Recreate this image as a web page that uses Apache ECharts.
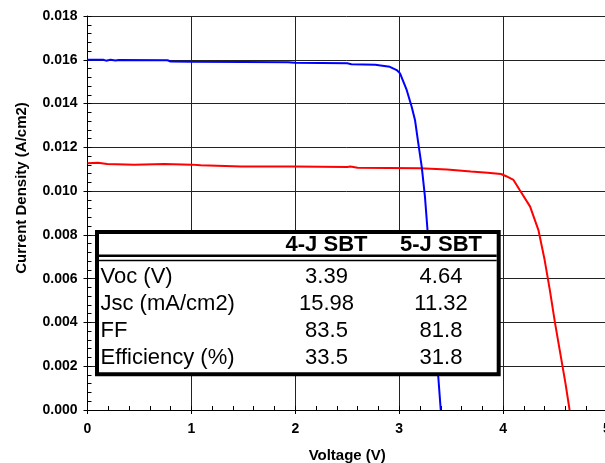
<!DOCTYPE html>
<html>
<head>
<meta charset="utf-8">
<script src="https://cdn.jsdelivr.net/npm/echarts@6/dist/echarts.min.js"></script>
<style>
html,body{margin:0;padding:0;background:#fff;}
#chart{width:605px;height:463px;}
</style>
</head>
<body>
<div id="chart"></div>
<script>
// ---- data ----
var voltage4J = [0, 0.15, 0.18, 0.22, 0.27, 0.30, 0.77, 0.80, 1.00, 1.50, 1.93, 2.00, 2.50, 2.54, 2.77, 2.82, 2.91, 2.976, 3.008, 3.072, 3.12, 3.152, 3.184, 3.217, 3.248, 3.27, 3.376, 3.40];
var current4J = [0.01600, 0.01600, 0.01596, 0.01600, 0.01597, 0.01599, 0.01598, 0.01592, 0.01591, 0.01590, 0.01589, 0.01586, 0.01584, 0.01580, 0.01577, 0.01574, 0.01568, 0.01553, 0.01538, 0.01462, 0.01385, 0.01325, 0.01218, 0.01111, 0.00974, 0.00837, 0.00152, 0];

var voltage5J = [0, 0.10, 0.19, 0.45, 0.74, 1.00, 1.09, 1.48, 1.99, 2.50, 2.53, 2.60, 3.20, 3.46, 3.69, 3.85, 3.98, 4.03, 4.10, 4.16, 4.26, 4.34, 4.40, 4.45, 4.50, 4.55, 4.60, 4.64];
var current5J = [0.01127, 0.01130, 0.01124, 0.01121, 0.01124, 0.01121, 0.01118, 0.01113, 0.01112, 0.01110, 0.01112, 0.01107, 0.01105, 0.01099, 0.01090, 0.01084, 0.01078, 0.01068, 0.01051, 0.01005, 0.00929, 0.00822, 0.00685, 0.00548, 0.00397, 0.00260, 0.00123, 0];

var xTicks = [0, 1, 2, 3, 4, 5];
var yTicks = ['0.000','0.002','0.004','0.006','0.008','0.010','0.012','0.014','0.016','0.018'];

var tableHeaders = ['4-J SBT', '5-J SBT'];
var tableRows = ['Voc (V)', 'Jsc (mA/cm2)', 'FF', 'Efficiency (%)'];
var values4J = ['3.39', '15.98', '83.5', '33.5'];
var values5J = ['4.64', '11.32', '81.8', '31.8'];

// ---- build ----
function pairs(xs, ys){ var o=[]; for(var i=0;i<xs.length;i++){o.push([xs[i], ys[i]]);} return o; }

var FONT = '"Liberation Sans", Arial, sans-serif';
var chart = echarts.init(document.getElementById('chart'), null, {renderer:'canvas'});

var graphics = [];
graphics.push({type:'rect', z:100, shape:{x:97, y:232, width:401.7, height:142.3},
  style:{fill:'#fff', stroke:'#000', lineWidth:4}});
graphics.push({type:'line', z:101, shape:{x1:99, y1:255.8, x2:496.7, y2:255.8},
  style:{stroke:'#000', lineWidth:2.6}});
graphics.push({type:'line', z:101, shape:{x1:99, y1:260.4, x2:496.7, y2:260.4},
  style:{stroke:'#000', lineWidth:1.5}});
var colX = [326.5, 441];
var rowY = [276.7, 303.5, 331, 358.3];
for (var h=0; h<tableHeaders.length; h++){
  graphics.push({type:'text', z:102, x:colX[h], y:244.5,
    style:{text:tableHeaders[h], fontSize:22, fontWeight:'bold', fontFamily:FONT, fill:'#000', align:'center', verticalAlign:'middle'}});
}
for (var r=0; r<tableRows.length; r++){
  graphics.push({type:'text', z:102, x:100.5, y:rowY[r],
    style:{text:tableRows[r], fontSize:22, fontFamily:FONT, fill:'#000', align:'left', verticalAlign:'middle'}});
  graphics.push({type:'text', z:102, x:colX[0], y:rowY[r],
    style:{text:values4J[r], fontSize:22, fontFamily:FONT, fill:'#000', align:'center', verticalAlign:'middle'}});
  graphics.push({type:'text', z:102, x:colX[1], y:rowY[r],
    style:{text:values5J[r], fontSize:22, fontFamily:FONT, fill:'#000', align:'center', verticalAlign:'middle'}});
}

var option = {
  animation:false,
  backgroundColor:'#fff',
  grid:{left:87.5, right:-2, top:16, bottom:53, containLabel:false, outerBoundsMode:'none'},
  xAxis:[{
    type:'value', min:0, max:5, interval:1,
    name:'Voltage (V)', nameLocation:'middle', nameGap:38.5,
    nameTextStyle:{fontSize:15, fontWeight:'bold', fontFamily:FONT, color:'#000'},
    axisLine:{show:true, onZero:false, lineStyle:{color:'#000', width:1}},
    axisTick:{show:true, inside:true, length:4, lineStyle:{color:'#000'}},
    minorTick:{show:true, splitNumber:5, length:4, lineStyle:{color:'#000', width:1}},
    axisLabel:{fontSize:14, fontWeight:'bold', fontFamily:FONT, color:'#000', margin:12,
      hideOverlap:false, showMaxLabel:true,
      formatter:function(v){ return xTicks.indexOf(v)>=0 ? String(v) : ''; }},
    splitLine:{show:true, lineStyle:{color:'#222', width:1}}
  },{
    type:'value', min:0, max:5, interval:1, position:'bottom', offset:0,
    axisLine:{show:false}, axisLabel:{show:false}, splitLine:{show:false},
    axisTick:{show:true, inside:false, length:4, lineStyle:{color:'#000', width:1}}
  }],
  yAxis:[{
    type:'value', min:0, max:0.018, interval:0.002,
    name:'Current Density (A/cm2)', nameLocation:'middle', nameGap:58,
    nameTextStyle:{fontSize:15, fontWeight:'bold', fontFamily:FONT, color:'#000', padding:[0,0,0,50]},
    axisLine:{show:true, onZero:false, lineStyle:{color:'#000', width:1}},
    axisTick:{show:true, inside:true, length:4, lineStyle:{color:'#000'}},
    minorTick:{show:true, splitNumber:5, length:4, lineStyle:{color:'#000', width:1}},
    axisLabel:{fontSize:14, fontWeight:'bold', fontFamily:FONT, color:'#000', margin:10,
      formatter:function(v){ return yTicks[Math.round(v/0.002)]; }},
    splitLine:{show:true, lineStyle:{color:'#222', width:1}}
  },{
    type:'value', min:0, max:0.018, interval:0.002, position:'left', offset:0,
    axisLine:{show:false}, axisLabel:{show:false}, splitLine:{show:false},
    axisTick:{show:true, inside:false, length:4, lineStyle:{color:'#000', width:1}}
  }],
  series:[{
    name:'5-J SBT', type:'line', xAxisIndex:0, yAxisIndex:0,
    data:pairs(voltage5J, current5J), showSymbol:false, smooth:false,
    lineStyle:{color:'#ff0000', width:2}, z:2
  },{
    name:'4-J SBT', type:'line', xAxisIndex:0, yAxisIndex:0,
    data:pairs(voltage4J, current4J), showSymbol:false, smooth:false,
    lineStyle:{color:'#0000ff', width:2}, z:3
  }],
  graphic:graphics
};
chart.setOption(option);
</script>
</body>
</html>
